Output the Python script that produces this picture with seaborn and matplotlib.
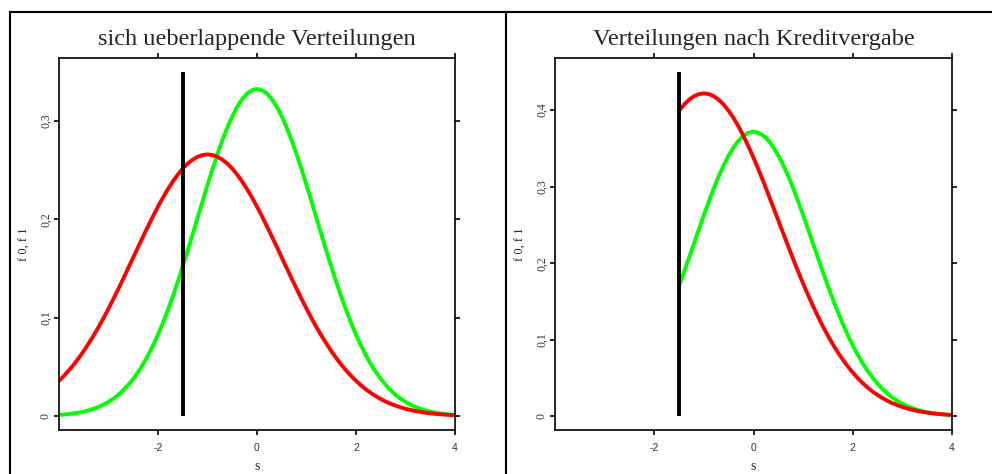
import matplotlib
matplotlib.use("Agg")
import matplotlib.pyplot as plt
from matplotlib.lines import Line2D
import pandas as pd
import seaborn as sns

# ---- data -----------------------------------------------------------------
CUTOFF = -1.5            # score threshold (vertical line)
CUTOFF_TOP_LEFT = 0.35
CUTOFF_TOP_RIGHT = 0.45

S_LEFT = [-4.0, -3.9, -3.8, -3.7, -3.6, -3.5, -3.4, -3.3, -3.2, -3.1,
          -3.0, -2.9, -2.8, -2.7, -2.6, -2.5, -2.4, -2.3, -2.2, -2.1,
          -2.0, -1.9, -1.8, -1.7, -1.6, -1.5, -1.4, -1.3, -1.2, -1.1,
          -1.0, -0.9, -0.8, -0.7, -0.6, -0.5, -0.4, -0.3, -0.2, -0.1,
          0.0,
          0.1, 0.2, 0.3, 0.4, 0.5, 0.6, 0.7, 0.8, 0.9, 1.0,
          1.1, 1.2, 1.3, 1.4, 1.5, 1.6, 1.7, 1.8, 1.9, 2.0,
          2.1, 2.2, 2.3, 2.4, 2.5, 2.6, 2.7, 2.8, 2.9, 3.0,
          3.1, 3.2, 3.3, 3.4, 3.5, 3.6, 3.7, 3.8, 3.9, 4.0]

F0_LEFT = [0.0013, 0.0017, 0.0022, 0.0029, 0.0037, 0.0047, 0.0060, 0.0076, 0.0095, 0.0118,
           0.0146, 0.0179, 0.0219, 0.0265, 0.0318, 0.0380, 0.0450, 0.0530, 0.0619, 0.0719,
           0.0829, 0.0949, 0.1079, 0.1219, 0.1367, 0.1522, 0.1683, 0.1849, 0.2016, 0.2184,
           0.2349, 0.2510, 0.2662, 0.2804, 0.2934, 0.3048, 0.3145, 0.3222, 0.3279, 0.3313,
           0.3325,
           0.3313, 0.3279, 0.3222, 0.3145, 0.3048, 0.2934, 0.2804, 0.2662, 0.2510, 0.2349,
           0.2184, 0.2016, 0.1849, 0.1683, 0.1522, 0.1367, 0.1219, 0.1079, 0.0949, 0.0829,
           0.0719, 0.0619, 0.0530, 0.0450, 0.0380, 0.0318, 0.0265, 0.0219, 0.0179, 0.0146,
           0.0118, 0.0095, 0.0076, 0.0060, 0.0047, 0.0037, 0.0029, 0.0022, 0.0017, 0.0013]

F1_LEFT = [0.0360, 0.0410, 0.0466, 0.0526, 0.0592, 0.0663, 0.0740, 0.0821, 0.0907, 0.0998,
           0.1093, 0.1192, 0.1295, 0.1399, 0.1506, 0.1613, 0.1721, 0.1827, 0.1931, 0.2033,
           0.2130, 0.2222, 0.2307, 0.2385, 0.2455, 0.2516, 0.2567, 0.2607, 0.2636, 0.2654,
           0.2660, 0.2654, 0.2636, 0.2607, 0.2567, 0.2516, 0.2455, 0.2385, 0.2307, 0.2222,
           0.2130,
           0.2033, 0.1931, 0.1827, 0.1721, 0.1613, 0.1506, 0.1399, 0.1295, 0.1192, 0.1093,
           0.0998, 0.0907, 0.0821, 0.0740, 0.0663, 0.0592, 0.0526, 0.0466, 0.0410, 0.0360,
           0.0314, 0.0273, 0.0237, 0.0204, 0.0175, 0.0149, 0.0127, 0.0108, 0.0091, 0.0076,
           0.0064, 0.0053, 0.0044, 0.0036, 0.0030, 0.0024, 0.0020, 0.0016, 0.0013, 0.0010]

S_RIGHT = [-1.5, -1.4, -1.3, -1.2, -1.1, -1.0, -0.9, -0.8, -0.7, -0.6,
           -0.5, -0.4, -0.3, -0.2, -0.1, 0.0, 0.1, 0.2, 0.3, 0.4,
           0.5, 0.6, 0.7, 0.8, 0.9, 1.0, 1.1, 1.2, 1.3, 1.4,
           1.5, 1.6, 1.7, 1.8, 1.9, 2.0, 2.1, 2.2, 2.3, 2.4,
           2.5, 2.6, 2.7, 2.8, 2.9, 3.0, 3.1, 3.2, 3.3, 3.4,
           3.5, 3.6, 3.7, 3.8, 3.9, 4.0]

F0_RIGHT = [0.1702, 0.1882, 0.2067, 0.2255, 0.2442, 0.2627, 0.2806, 0.2977, 0.3136, 0.3280,
            0.3408, 0.3516, 0.3603, 0.3666, 0.3704, 0.3717, 0.3704, 0.3666, 0.3603, 0.3516,
            0.3408, 0.3280, 0.3136, 0.2977, 0.2806, 0.2627, 0.2442, 0.2255, 0.2067, 0.1882,
            0.1702, 0.1528, 0.1363, 0.1207, 0.1061, 0.0927, 0.0804, 0.0692, 0.0592, 0.0503,
            0.0424, 0.0356, 0.0296, 0.0244, 0.0200, 0.0163, 0.0132, 0.0106, 0.0085, 0.0067,
            0.0053, 0.0041, 0.0032, 0.0025, 0.0019, 0.0014]

F1_RIGHT = [0.3990, 0.4071, 0.4134, 0.4181, 0.4209, 0.4218, 0.4209, 0.4181, 0.4134, 0.4071,
            0.3990, 0.3894, 0.3783, 0.3659, 0.3523, 0.3378, 0.3223, 0.3063, 0.2897, 0.2729,
            0.2558, 0.2388, 0.2219, 0.2053, 0.1891, 0.1734, 0.1583, 0.1439, 0.1302, 0.1173,
            0.1052, 0.0939, 0.0835, 0.0739, 0.0651, 0.0571, 0.0498, 0.0433, 0.0375, 0.0323,
            0.0277, 0.0237, 0.0201, 0.0170, 0.0144, 0.0121, 0.0101, 0.0084, 0.0069, 0.0057,
            0.0047, 0.0038, 0.0031, 0.0025, 0.0020, 0.0016]

X_TICKS = [-2, 0, 2, 4]
X_TICK_LABELS = ["-2", "0", "2", "4"]
Y_TICKS_LEFT = [0.0, 0.1, 0.2, 0.3]
Y_TICK_LABELS_LEFT = ["0", "0,1", "0,2", "0,3"]
Y_TICKS_RIGHT = [0.0, 0.1, 0.2, 0.3, 0.4]
Y_TICK_LABELS_RIGHT = ["0", "0,1", "0,2", "0,3", "0,4"]

TITLES = ["sich ueberlappende Verteilungen", "Verteilungen nach Kreditvergabe"]

# ---- style ----------------------------------------------------------------
sns.set_theme(style="white")
plt.rcParams["font.family"] = ["Liberation Serif", "DejaVu Serif"]
plt.rcParams["axes.unicode_minus"] = False

W, H = 992, 474
fig = plt.figure(figsize=(W / 100, H / 100), dpi=100)
fig.patch.set_facecolor("white")

# outer panel frames
frame_kw = dict(transform=fig.transFigure, color="black", lw=1.5, solid_capstyle="projecting")
fig.add_artist(Line2D([10 / W, 1.01], [1 - 12 / H, 1 - 12 / H], **frame_kw))
fig.add_artist(Line2D([10 / W, 10 / W], [-0.01, 1 - 12 / H], **frame_kw))
fig.add_artist(Line2D([506 / W, 506 / W], [-0.01, 1 - 12 / H], **frame_kw))

ax_top, ax_bot = 58, 430
axL = fig.add_axes([59 / W, (H - ax_bot) / H, 396 / W, (ax_bot - ax_top) / H])
axR = fig.add_axes([555 / W, (H - ax_bot) / H, 397 / W, (ax_bot - ax_top) / H])

GREEN = "#00FF00"
RED = "#FF0000"
LW = 2.8

panels = [
    (axL, S_LEFT, F0_LEFT, F1_LEFT, CUTOFF_TOP_LEFT, Y_TICKS_LEFT, Y_TICK_LABELS_LEFT, TITLES[0]),
    (axR, S_RIGHT, F0_RIGHT, F1_RIGHT, CUTOFF_TOP_RIGHT, Y_TICKS_RIGHT, Y_TICK_LABELS_RIGHT, TITLES[1]),
]

for ax, s, f0, f1, top, yt, ytl, title in panels:
    df = pd.DataFrame({"s": s, "f0": f0, "f1": f1})
    sns.lineplot(data=df, x="s", y="f0", ax=ax, color=GREEN, linewidth=LW,
                 estimator=None, sort=False)
    sns.lineplot(data=df, x="s", y="f1", ax=ax, color=RED, linewidth=LW,
                 estimator=None, sort=False)
    cut = pd.DataFrame({"s": [CUTOFF, CUTOFF], "f": [0.0, top]})
    sns.lineplot(data=cut, x="s", y="f", ax=ax, color="black", linewidth=LW,
                 estimator=None, sort=False, solid_capstyle="butt")

    ax.set_xlim(-4, 4)
    ax.set_ylim(-0.04 * top, top * 1.04)
    ax.set_facecolor("white")
    for sp in ax.spines.values():
        sp.set_visible(True)
        sp.set_color("black")
        sp.set_linewidth(1.2)

    ax.set_xticks(X_TICKS)
    ax.set_xticklabels(X_TICK_LABELS, fontsize=7.5, family=["Liberation Sans", "DejaVu Sans"],
                       color="#333333")
    ax.set_yticks(yt)
    ax.set_yticklabels(ytl, fontsize=8.5, rotation=90, va="center", color="#333333")
    ax.tick_params(axis="both", which="both", direction="out", length=3.6, width=1.2,
                   color="black", top=True, right=True, bottom=True, left=True,
                   labeltop=False, labelright=False)
    ax.tick_params(axis="x", pad=5.5)
    ax.tick_params(axis="y", pad=1.5)

    ax.set_xlabel("s", fontsize=10, va="center")
    ax.xaxis.set_label_coords(0.5, -(467 - ax_bot) / (ax_bot - ax_top))
    ax.set_ylabel("f 0, f 1", fontsize=9, va="center")
    ax.yaxis.set_label_coords(-(59 - 25) / 396, 0.5)

    ax.set_title(title, fontsize=17.6, y=1 + 12.5 / (ax_bot - ax_top), pad=0, va="baseline")
    ax.grid(False)

fig.savefig("out.png", dpi=100, facecolor="white")
